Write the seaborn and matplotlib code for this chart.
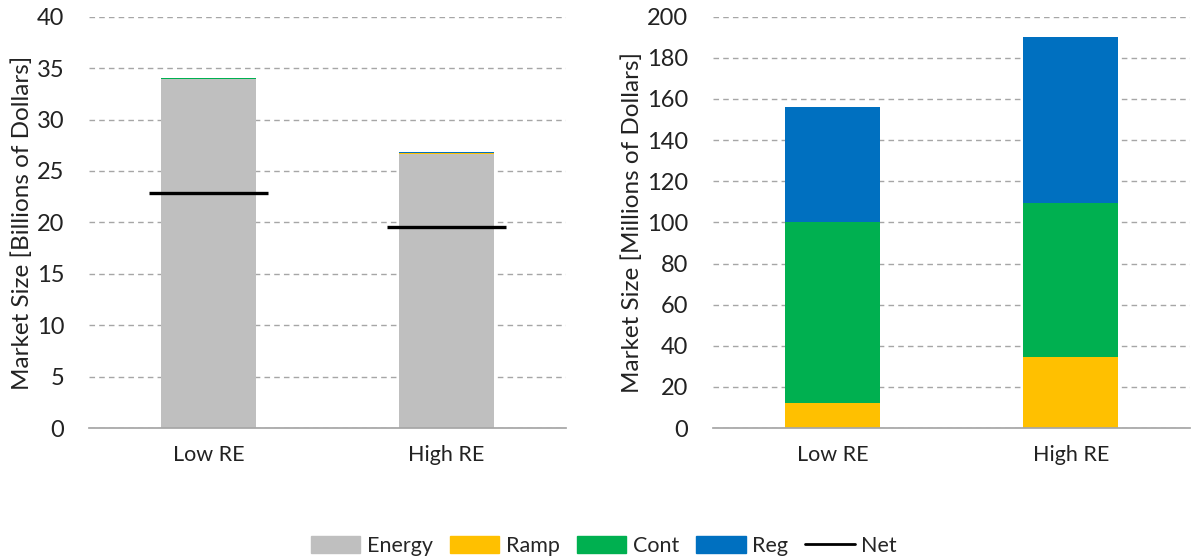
import numpy as np
import pandas as pd
import seaborn as sns
import matplotlib.pyplot as plt
from matplotlib.patches import Patch
from matplotlib.lines import Line2D

# Data
scenarios = ["Low RE", "High RE"]
energy_bn = [33.90, 26.67]      # billions of dollars
net_bn = [22.85, 19.55]         # billions of dollars
ramp_mn = [12.0, 34.5]          # millions of dollars
cont_mn = [88.0, 75.0]
reg_mn = [56.0, 80.5]

colors = {"Energy": "#BFBFBF", "Ramp": "#FFC000", "Cont": "#00B050", "Reg": "#0070C0"}

sns.set_theme(style="white")
plt.rcParams["font.family"] = ["Lato", "DejaVu Sans"]

fig, (ax1, ax2) = plt.subplots(1, 2, figsize=(11.91, 5.56), dpi=100)
fig.subplots_adjust(left=0.075, right=0.999, top=0.97, bottom=0.23, wspace=0.31)


def stacked(ax, parts, order):
    # overlay cumulative totals, tallest first
    df = pd.DataFrame(parts, index=scenarios)
    cum = df.cumsum(axis=1)
    for name in reversed(order):
        sns.barplot(x=cum.index, y=cum[name].values, ax=ax, color=colors[name],
                    width=0.4, saturation=1, order=scenarios, linewidth=0)


def style(ax, ymax, step, ylabel):
    ax.set_ylim(0, ymax)
    ax.set_xlim(-0.5, 1.5)
    ax.set_yticks(np.arange(0, ymax + step, step))
    ax.yaxis.grid(True, linestyle=(0, (4, 3)), color="#A6A6A6", linewidth=1)
    ax.set_axisbelow(True)
    for s in ["top", "right", "left"]:
        ax.spines[s].set_visible(False)
    ax.spines["bottom"].set_color("#A6A6A6")
    ax.tick_params(axis="y", length=0, labelsize=17, pad=18, colors="#222222")
    ax.tick_params(axis="x", length=0, labelsize=15.5, pad=12, colors="#222222")
    ax.set_xticks([-0.5, 0.5, 1.5], minor=True)
    ax.tick_params(axis="x", which="minor", length=5, color="#A6A6A6", direction="out")
    ax.set_ylabel(ylabel, fontsize=17.5, color="#222222", labelpad=3)
    ax.set_xlabel("")


# Left panel: billions
stacked(ax1, {"Energy": energy_bn,
              "Ramp": [v / 1000 for v in ramp_mn],
              "Cont": [v / 1000 for v in cont_mn],
              "Reg": [v / 1000 for v in reg_mn]},
        ["Energy", "Ramp", "Cont", "Reg"])
xs = np.arange(len(scenarios))
ax1.hlines(net_bn, xs - 0.25, xs + 0.25, color="black", linewidth=2.4, zorder=5)
style(ax1, 40, 5, "Market Size [Billions of Dollars]")

# Right panel: millions
stacked(ax2, {"Ramp": ramp_mn, "Cont": cont_mn, "Reg": reg_mn},
        ["Ramp", "Cont", "Reg"])
style(ax2, 200, 20, "Market Size [Millions of Dollars]")

handles = [Patch(color=colors[k], label=k) for k in ["Energy", "Ramp", "Cont", "Reg"]]
handles.append(Line2D([0], [0], color="black", linewidth=2, label="Net"))
fig.legend(handles=handles, loc="lower center", bbox_to_anchor=(0.507, -0.035), ncol=5,
           frameon=False, fontsize=15.5, handlelength=2.3, handleheight=0.8,
           columnspacing=0.8, handletextpad=0.3)

fig.savefig("out.png", dpi=100)
